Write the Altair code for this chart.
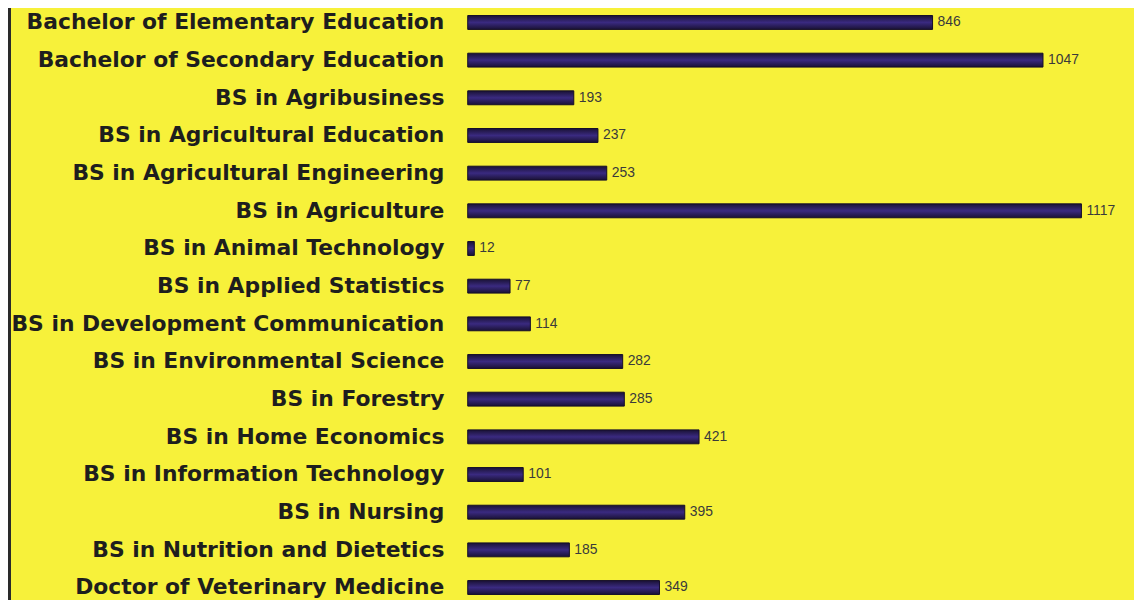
import altair as alt
import pandas as pd

programs = [
    "Bachelor of Elementary Education",
    "Bachelor of Secondary Education",
    "BS in Agribusiness",
    "BS in Agricultural Education",
    "BS in Agricultural Engineering",
    "BS in Agriculture",
    "BS in Animal Technology",
    "BS in Applied Statistics",
    "BS in Development Communication",
    "BS in Environmental Science",
    "BS in Forestry",
    "BS in Home Economics",
    "BS in Information Technology",
    "BS in Nursing",
    "BS in Nutrition and Dietetics",
    "Doctor of Veterinary Medicine",
]
counts = [846, 1047, 193, 237, 253, 1117, 12, 77, 114, 282, 285, 421, 101, 395, 185, 349]

df = pd.DataFrame({"program": programs, "count": counts})

W = 664
H = 592

y_enc = alt.Y(
    "program:N",
    sort=programs,
    scale=alt.Scale(range=[-6.5, 600.5], paddingInner=0, paddingOuter=0),
    axis=alt.Axis(
        title=None,
        ticks=False,
        domain=False,
        grid=False,
        labelFont="DejaVu Sans",
        labelFontWeight="bold",
        labelFontSize=22,
        labelColor="#1e1e1e",
        labelPadding=24,
        labelLimit=0,
    ),
)
x_enc = alt.X("count:Q", scale=alt.Scale(domain=[0, 1200], nice=False), axis=None)

bars = alt.Chart(df).mark_bar(
    size=14,
    color=alt.Gradient(
        gradient="linear",
        x1=0, y1=0, x2=0, y2=1,
        stops=[
            alt.GradientStop(offset=0, color="#1a1235"),
            alt.GradientStop(offset=0.5, color="#3a2a80"),
            alt.GradientStop(offset=1, color="#1a1235"),
        ],
    ),
    stroke="#140d28",
    strokeWidth=1,
).encode(x=x_enc, y=y_enc)

labels = alt.Chart(df).mark_text(
    align="left",
    baseline="middle",
    dx=5,
    font="Liberation Sans",
    fontSize=14,
    color="#3a3a3a",
).encode(x=x_enc, y=alt.Y("program:N", sort=programs), text="count:Q")

border = alt.Chart(df).mark_rule(color="#2a2a2a", strokeWidth=3).encode(
    x=alt.value(-461.5), y=alt.value(-10), y2=alt.value(H + 10)
)

chart = (
    alt.layer(bars, labels, border)
    .properties(
        width=W,
        height=H,
        background="#f7f13a",
        autosize=alt.AutoSizeParams(type="none"),
        padding={"left": 463, "top": 0, "right": 7, "bottom": 0},
    )
    .configure_view(stroke=None)
)

chart.save("out.html", embed_options={"renderer": "svg", "actions": False})
